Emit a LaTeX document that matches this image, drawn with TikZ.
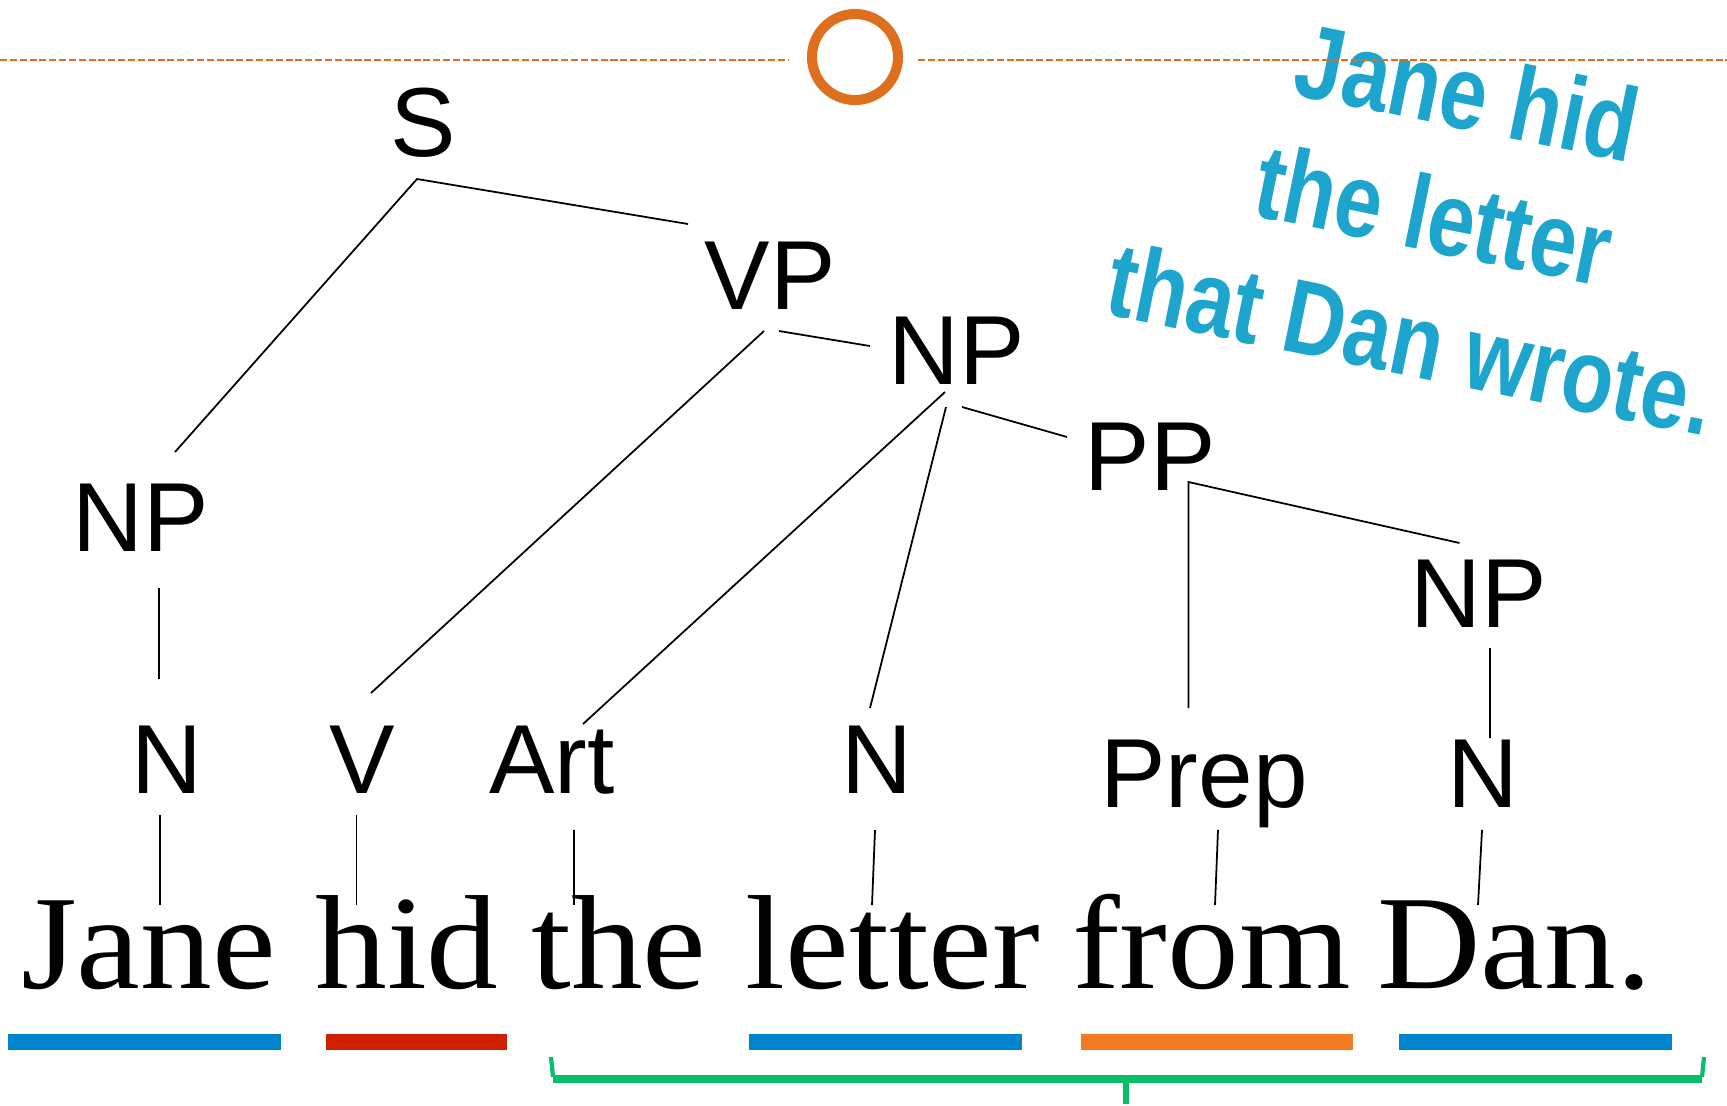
\documentclass[tikz,border=0pt]{standalone}
\usepackage{fontspec}
\usepackage{tikz}

\newfontfamily\synfont{Liberation Sans}
\newfontfamily\wordfont[FakeStretch=1.07]{Liberation Serif}
\newfontfamily\artfont[FakeStretch=0.81]{Liberation Sans}

\definecolor{ringorange}{RGB}{221,111,30}
\definecolor{barblue}{RGB}{0,132,206}
\definecolor{barred}{RGB}{208,32,0}
\definecolor{barorange}{RGB}{242,122,34}
\definecolor{bracegreen}{RGB}{8,190,104}
\definecolor{artblue}{RGB}{30,165,205}

\begin{document}
\begin{tikzpicture}[x=0.01cm, y=-0.01cm,
		syn/.style={font=\synfont\fontsize{27.9}{30}\selectfont, anchor=base, inner sep=0pt},
		word/.style={font=\wordfont\fontsize{38.1}{40}\selectfont, anchor=base, inner sep=0pt},
		art/.style={font=\artfont\bfseries\fontsize{29.9}{32}\selectfont, text=artblue, anchor=base, inner sep=0pt, rotate=-11.5},
		branch/.style={line width=0.5pt},
		rule/.style={ringorange, line width=0.6pt, dash pattern=on 2pt off 0.8pt}]

			\useasboundingbox (0,0) rectangle (1727,1105);

			\node[art] (wa1) at (1460,128.5) {Jane hid};
			\node[art] (wa2) at (1427,251) {the letter};
			\node[art] (wa3) at (1404,375) {that Dan wrote.};

			\draw[rule] (0,60) -- (789,60);
			\draw[rule] (918,60) -- (1727,60);
			\draw[ringorange, line width=2.85pt] (855,57) circle[radius=0.43cm];

			\node[syn] (s) at (423,156) {S};
			\node[syn] (vp) at (770,309) {VP};
			\node[syn] (np2) at (957,384) {NP};
			\node[syn] (pp) at (1150,490) {PP};
			\node[syn] (np1) at (141,551) {NP};
			\node[syn] (np3) at (1479,627) {NP};
			\node[syn] (n1) at (167,793) {N};
			\node[syn] (v) at (362,793) {V};
			\node[syn] (art) at (552,793) {Art};
			\node[syn] (n2) at (877,793) {N};
			\node[syn] (prep) at (1204,807) {Prep};
			\node[syn] (n3) at (1483,807) {N};

			\node[word] (w1) at (148.5,988) {Jane};
			\node[word] (w2) at (407,988) {hid};
			\node[word] (w3) at (619,988) {the};
			\node[word] (w4) at (893,988) {letter};
			\node[word] (w5) at (1211.5,988) {from};
			\node[word] (w6) at (1514.5,988) {Dan.};

			\draw[branch] ([shift={(34,-99)}]np1.base) -- ([shift={(-6,23)}]s.base) -- ([shift={(-82,-85)}]vp.base);
			\draw[branch] ([shift={(-6,22)}]vp.base) -- ([shift={(9,-100)}]v.base);
			\draw[branch] ([shift={(9,22)}]vp.base) -- ([shift={(-87,-38)}]np2.base);
			\draw[branch] ([shift={(-12,8)}]np2.base) -- ([shift={(31,-69)}]art.base);
			\draw[branch] ([shift={(-11,23)}]np2.base) -- ([shift={(-7,-85)}]n2.base);
			\draw[branch] ([shift={(5,23)}]np2.base) -- ([shift={(-83,-53)}]pp.base);
			\draw[branch] ([shift={(-15.5,-99)}]prep.base) -- ([shift={(38.5,-8)}]pp.base) -- ([shift={(-19.5,-84)}]np3.base);
			\draw[branch] ([shift={(18,37)}]np1.base) -- ([shift={(-8,-114)}]n1.base);
			\draw[branch] ([shift={(11,21)}]np3.base) -- ([shift={(7,-69)}]n3.base);

			\draw[branch] ([shift={(-7,22)}]n1.base) -- ([shift={(11.5,-83)}]w1.base);
			\draw[branch] ([shift={(-5.5,22)}]v.base) -- ([shift={(-50.5,-83)}]w2.base);
			\draw[branch] ([shift={(22,37)}]art.base) -- ([shift={(-45,-83)}]w3.base);
			\draw[branch] ([shift={(-2,37)}]n2.base) -- ([shift={(-21,-83)}]w4.base);
			\draw[branch] ([shift={(14,23)}]prep.base) -- ([shift={(3.5,-83)}]w5.base);
			\draw[branch] ([shift={(-1,23)}]n3.base) -- ([shift={(-36.5,-83)}]w6.base);

			\fill[barblue] (8,1034) rectangle (281,1050);
			\fill[barred] (326,1034) rectangle (507,1050);
			\fill[barblue] (749,1034) rectangle (1022,1050);
			\fill[barorange] (1081,1034) rectangle (1353,1050);
			\fill[barblue] (1399,1034) rectangle (1672,1050);

			\draw[bracegreen, line width=1.2pt] (551,1057) -- (553,1077);
			\draw[bracegreen, line width=1.2pt] (1704,1057) -- (1702,1077);
			\draw[bracegreen, line width=2.3pt] (553,1079) -- (1702,1079);
			\draw[bracegreen, line width=1.8pt] (1126,1079) -- (1126,1104);

		\end{tikzpicture}
\end{document}
